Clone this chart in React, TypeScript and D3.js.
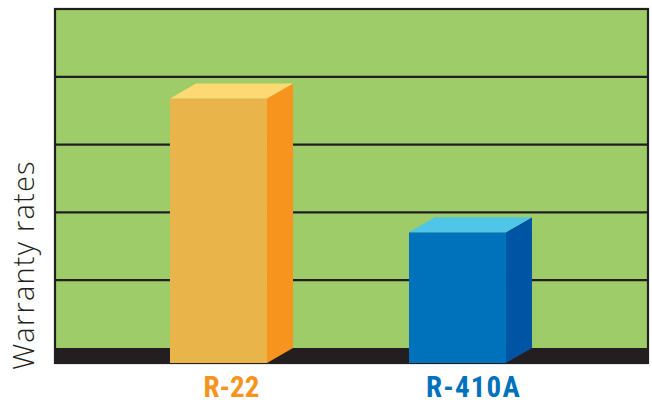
import React from "react";
import * as d3 from "d3";

// chart values
const categories = ["R-22", "R-410A"];
const warrantyRates = [3.9, 1.93];
const gridTicks = [0, 1, 2, 3, 4, 5];

const palette: Record<string, { front: string; top: string; side: string; label: string }> = {
	"R-22": { front: "#E9B54A", top: "#FDD873", side: "#F7941D", label: "#F7941D" },
	"R-410A": { front: "#0071BB", top: "#4FC6E8", side: "#0054A4", label: "#0071BB" },
};

const W = 652;
const H = 404;
const left = 55;
const right = 648;
const top = 9;
const floorBack = 348;
const depthX = 26;
const depthY = 15;

export default function App() {
	const x = d3
		.scaleBand<string>()
		.domain(categories)
		.range([left, 621])
		.paddingInner(0.594)
		.paddingOuter(0.481);

	const y = d3.scaleLinear().domain([0, 5]).range([floorBack, top]);

	const bars = categories.map((c, i) => {
		const x0 = x(c) as number;
		const bw = x.bandwidth();
		const yb = y(warrantyRates[i]); // top on the back plane
		const yf = yb + depthY; // top on the front plane
		const bottom = floorBack + depthY;
		const col = palette[c];
		const frontPath = d3.path();
		frontPath.rect(x0, yf, bw, bottom - yf);
		const side = d3.line()([
			[x0 + bw, yf],
			[x0 + bw + depthX, yb],
			[x0 + bw + depthX, floorBack],
			[x0 + bw, bottom],
		]) + "Z";
		const topFace = d3.line()([
			[x0, yf],
			[x0 + depthX, yb],
			[x0 + bw + depthX, yb],
			[x0 + bw, yf],
		]) + "Z";
		return (
			<g key={c}>
				<path d={frontPath.toString()} fill={col.front} />
				<path d={side} fill={col.side} />
				<path d={topFace} fill={col.top} />
				<text
					x={x0 + (bw + depthX) / 2 + i * 3}
					y={397}
					textAnchor="middle"
					fill={col.label}
					fontFamily="'Liberation Sans Narrow', 'Roboto Condensed', 'Open Sans', sans-serif"
					fontWeight={700}
					fontSize={29}
					letterSpacing={i * 1.2}
				>
					{c}
				</text>
			</g>
		);
	});

	return (
		<svg
			width={W}
			height={H}
			viewBox={`0 0 ${W} ${H}`}
			style={{ position: "absolute", left: 0, top: 0, background: "#ffffff" }}
		>
			{/* green back panel */}
			<rect x={left} y={top} width={right - left} height={floorBack - top + depthY} fill="#9DCC69" />
			{/* grid lines */}
			{gridTicks.slice(1, -1).map((t) => (
				<line key={t} x1={left} x2={right} y1={y(t)} y2={y(t)} stroke="#231F20" strokeWidth={2.2} />
			))}
			{/* floor band */}
			<rect x={left} y={floorBack} width={right - left} height={depthY} fill="#231F20" />
			{/* frame */}
			<rect
				x={left}
				y={top}
				width={right - left}
				height={floorBack + depthY - top}
				fill="none"
				stroke="#231F20"
				strokeWidth={2.2}
			/>
			{bars}
			<text
				transform="translate(34, 265) rotate(-90)"
				textAnchor="middle"
				fill="#231F20"
				fontFamily="'Open Sans', 'Noto Sans', sans-serif"
				fontWeight={300}
				fontSize={29}
				letterSpacing={1.2}
			>
				Warranty rates
			</text>
		</svg>
	);
}
